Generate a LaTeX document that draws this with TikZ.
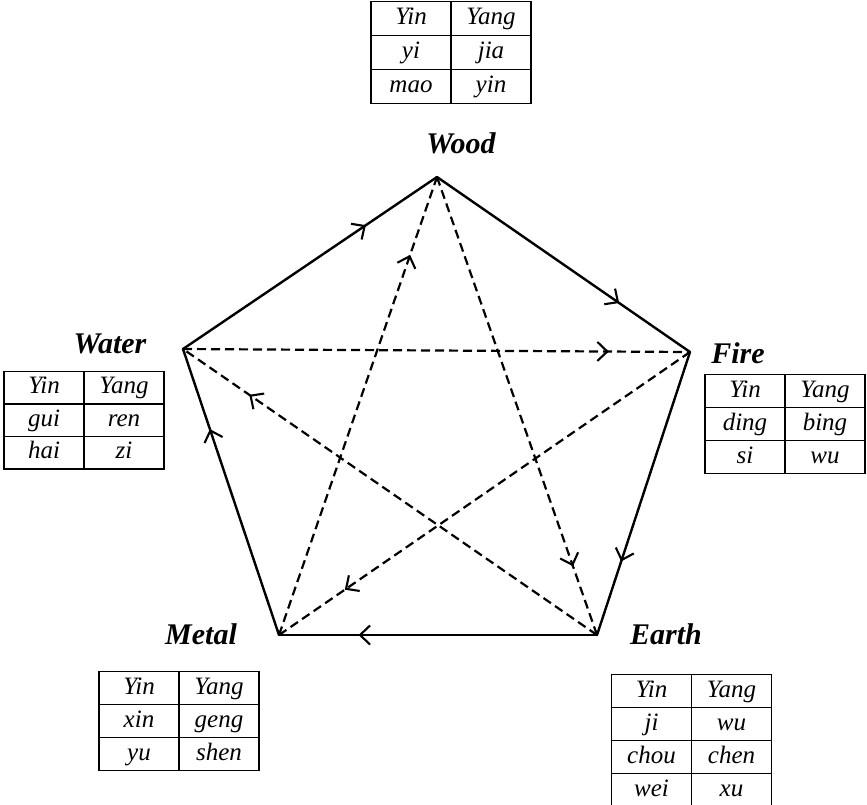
\documentclass[tikz,border=0pt]{standalone}
\usepackage{fontspec}
\setmainfont{Liberation Serif}
\usetikzlibrary{arrows.meta,decorations.markings,matrix}
\begin{document}
\begin{tikzpicture}[x=1pt,y=-1pt,
  solidedge/.style={line width=2.4pt, line cap=round},
  dashedge/.style={line width=2.2pt, dash pattern=on 9pt off 5pt},
  midarrow/.style={postaction={decorate,decoration={markings,
     mark=at position #1 with {\arrow{Straight Barb[length=10pt,width=19pt,line width=2.1pt]}}}}},
  elabel/.style={font=\fontsize{30}{30}\selectfont\bfseries\itshape, inner sep=0pt},
  tbl/.style={matrix of nodes, column sep=-1.5pt, row sep=-1.5pt,
     nodes={draw, line width=1.5pt, minimum width=80pt, minimum height=#1, inner sep=0pt,
            text height=17pt, text depth=5pt,
            anchor=center, font=\fontsize{25}{25}\selectfont\itshape}}
]
\useasboundingbox (0,0) rectangle (867,804);
\fill[white] (0,0) rectangle (867,804);

\coordinate (Wo) at (437,177);
\coordinate (Fi) at (690,352);
\coordinate (Ea) at (597,635);
\coordinate (Me) at (279,635);
\coordinate (Wa) at (183,349);

% generating cycle
\draw[solidedge, midarrow=0.72] (Wa) -- (Wo);
\draw[solidedge, midarrow=0.72] (Wo) -- (Fi);
\draw[solidedge, midarrow=0.74] (Fi) -- (Ea);
\draw[solidedge, midarrow=0.75] (Ea) -- (Me);
\draw[solidedge, midarrow=0.72] (Me) -- (Wa);

% controlling cycle
\draw[dashedge, midarrow=0.84] (Wa) -- (Fi);
\draw[dashedge, midarrow=0.84] (Fi) -- (Me);
\draw[dashedge, midarrow=0.83] (Me) -- (Wo);
\draw[dashedge, midarrow=0.85] (Wo) -- (Ea);
\draw[dashedge, midarrow=0.84] (Ea) -- (Wa);

% labels
\node[elabel] (lwood) at (461,143) {Wood};
\node[elabel] (lwater) at (110,344) {Water};
\node[elabel] (lfire) at (738,353) {Fire};
\node[elabel] (lmetal) at (201,634) {Metal};
\node[elabel] (learth) at (666,634) {Earth};

% tables
\matrix[tbl=34pt] (twood) at (451,52.5) {Yin & Yang\\ yi & jia\\ mao & yin\\};
\matrix[tbl=32.5pt] (twater) at (84,420) {Yin & Yang\\ gui & ren\\ hai & zi\\};
\matrix[tbl=33pt] (tfire) at (785,424) {Yin & Yang\\ ding & bing\\ si & wu\\};
\matrix[tbl=33pt] (tmetal) at (179,721) {Yin & Yang\\ xin & geng\\ yu & shen\\};
\matrix[tbl=33pt] (tearth) at (691.5,740.5) {Yin & Yang\\ ji & wu\\ chou & chen\\ wei & xu\\};
\end{tikzpicture}
\end{document}
